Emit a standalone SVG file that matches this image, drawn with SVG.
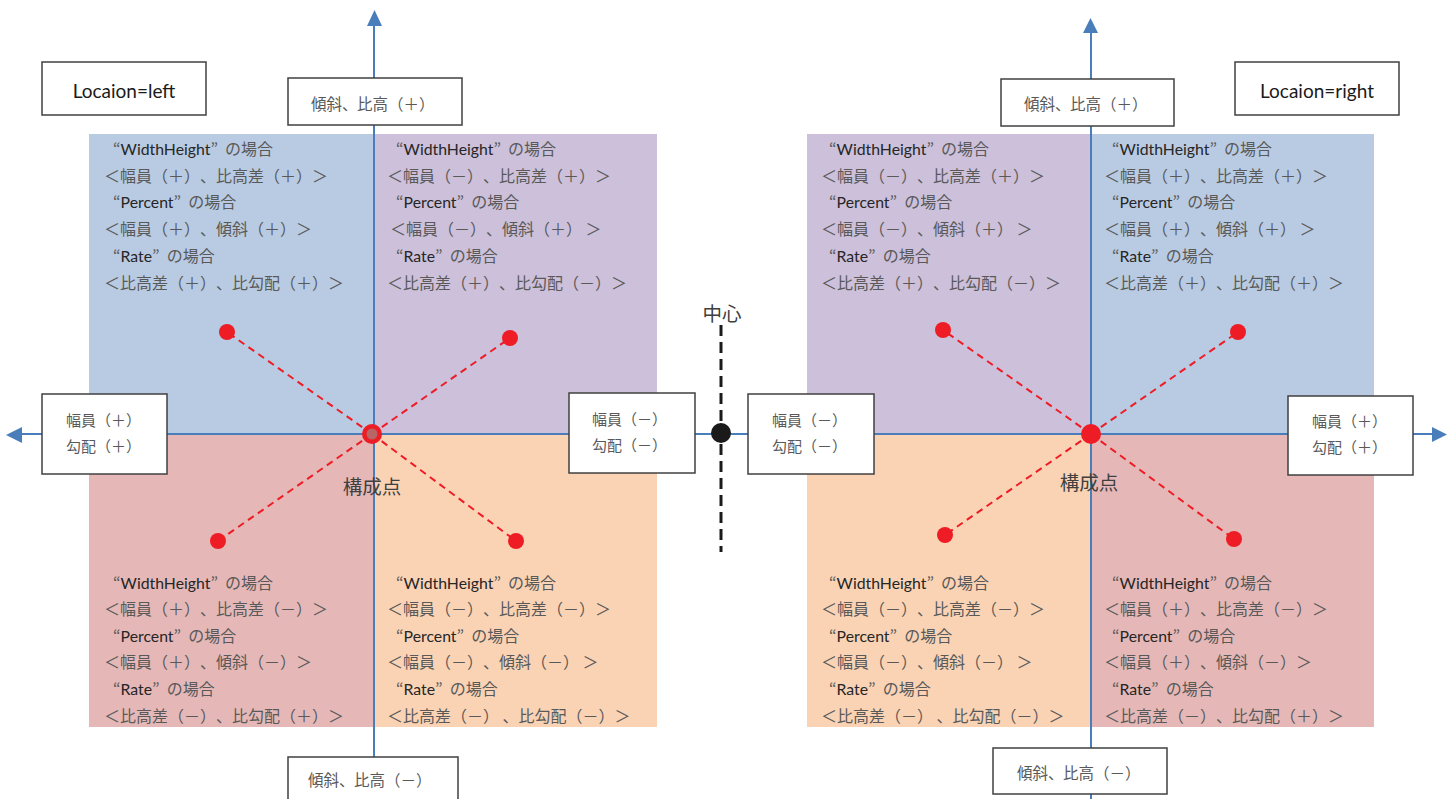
<svg xmlns="http://www.w3.org/2000/svg" width="1456" height="799" viewBox="0 0 1456 799">
<defs>
<style>
.q{font-family:"Noto Sans CJK JP",sans-serif;font-size:16px;fill:#595959;text-spacing-trim:space-all}
.lat{font-family:Lato,"Open Sans",sans-serif;fill:#262626;font-size:15.8px}
.box{fill:#fff;stroke:#404040;stroke-width:1.5}
.bt{font-family:"Noto Sans CJK JP",sans-serif;font-size:15px;fill:#595959;text-spacing-trim:space-all}
.bt2{font-family:"Noto Sans CJK JP",sans-serif;font-size:15.5px;fill:#595959;text-spacing-trim:space-all}
.loc{font-family:Lato,"Liberation Sans",sans-serif;font-size:19px;fill:#1a1a1a;text-anchor:middle}
.axis{stroke:#4a7ebb;stroke-width:2;fill:none}
.rd{stroke:#ee1c25;stroke-width:2;stroke-dasharray:7 5;fill:none}
.dot{fill:#ee1c25}
.lbl{font-family:"Noto Sans CJK JP",sans-serif;font-size:19.5px;fill:#404040;text-anchor:middle}
</style>
</defs>
<rect width="1456" height="799" fill="#fff"/>
<g id="quadrants">
<rect x="89" y="134" width="285" height="300" fill="#b9cbe2"/>
<rect x="374" y="134" width="283" height="300" fill="#ccc0da"/>
<rect x="89" y="434" width="285" height="293" fill="#e5b8b7"/>
<rect x="374" y="434" width="283" height="293" fill="#fad3b5"/>
<rect x="807" y="134" width="284" height="300" fill="#ccc0da"/>
<rect x="1091" y="134" width="283" height="300" fill="#b9cbe2"/>
<rect x="807" y="434" width="284" height="293" fill="#fad3b5"/>
<rect x="1091" y="434" width="283" height="293" fill="#e5b8b7"/>
</g>
<g id="connectors">
<line class="axis" x1="374" y1="24" x2="374" y2="799"/>
<polygon points="367,26 382,26 374.5,10" fill="#4a7ebb"/>
<line class="axis" x1="1091" y1="31" x2="1091" y2="799"/>
<polygon points="1083,33 1098,33 1090.5,18" fill="#4a7ebb"/>
<line class="axis" x1="20" y1="434" x2="1434" y2="434"/>
<polygon points="22,427 22,443 6,435" fill="#4a7ebb"/>
<polygon points="1432,427 1432,442 1447,434.5" fill="#4a7ebb"/>
<line x1="721" y1="325" x2="721" y2="552" stroke="#1a1a1a" stroke-width="3" stroke-dasharray="11 6"/>
<line class="rd" x1="372" y1="434" x2="227" y2="332"/>
<line class="rd" x1="372" y1="434" x2="510" y2="338"/>
<line class="rd" x1="372" y1="434" x2="218" y2="541"/>
<line class="rd" x1="372" y1="434" x2="516" y2="541"/>
<line class="rd" x1="1091" y1="434" x2="943" y2="330"/>
<line class="rd" x1="1091" y1="434" x2="1238" y2="332"/>
<line class="rd" x1="1091" y1="434" x2="945" y2="535"/>
<line class="rd" x1="1091" y1="434" x2="1234" y2="539"/>
</g>
<g id="points">
<circle class="dot" cx="227" cy="332" r="8"/>
<circle class="dot" cx="510" cy="338" r="8"/>
<circle class="dot" cx="218" cy="541" r="8"/>
<circle class="dot" cx="516" cy="541" r="8"/>
<circle class="dot" cx="943" cy="330" r="8"/>
<circle class="dot" cx="1238" cy="332" r="8"/>
<circle class="dot" cx="945" cy="535" r="8"/>
<circle class="dot" cx="1234" cy="539" r="8"/>
<circle class="dot" cx="372" cy="434" r="10"/>
<circle cx="372" cy="434" r="5.5" fill="#b86565"/>
<circle class="dot" cx="1091" cy="434" r="10"/>
<circle cx="721" cy="433" r="10" fill="#1a1a1a"/>
</g>
<g id="center-label"><text class="lbl" x="722" y="321">中心</text></g>
<g id="kosei-left"><text class="lbl" x="372" y="494">構成点</text></g>
<g id="kosei-right"><text class="lbl" x="1089" y="490">構成点</text></g>
<g id="loc-left"><rect class="box" x="42" y="62" width="164" height="53"/><text class="loc" x="124" y="98">Locaion=left</text></g>
<g id="loc-right"><rect class="box" x="1235" y="62" width="164" height="53"/><text class="loc" x="1317" y="98">Locaion=right</text></g>
<g id="top-left-box"><rect class="box" x="288" y="78" width="174" height="47"/><text class="bt2" x="311" y="110">傾斜、<tspan x="357">比高（＋）</tspan></text></g>
<g id="top-right-box"><rect class="box" x="1001" y="79" width="173" height="47"/><text class="bt2" x="1024" y="110">傾斜、<tspan x="1070">比高（＋）</tspan></text></g>
<g id="bottom-left-box"><rect class="box" x="288" y="757" width="170" height="50"/><text class="bt2" x="308" y="786">傾斜、<tspan x="354">比高（－）</tspan></text></g>
<g id="bottom-right-box"><rect class="box" x="993" y="748" width="174" height="46"/><text class="bt2" x="1017" y="779">傾斜、<tspan x="1063">比高（－）</tspan></text></g>
<g id="left-box"><rect class="box" x="42" y="394" width="125" height="80"/><text class="bt" x="66" y="426">幅員（＋）</text><text class="bt" x="66" y="452">勾配（＋）</text></g>
<g id="mid-left-box"><rect class="box" x="569" y="393" width="126" height="80"/><text class="bt" x="592" y="425">幅員（－）</text><text class="bt" x="592" y="451">勾配（－）</text></g>
<g id="mid-right-box"><rect class="box" x="748" y="394" width="126" height="80"/><text class="bt" x="772" y="426">幅員（－）</text><text class="bt" x="772" y="452">勾配（－）</text></g>
<g id="right-box"><rect class="box" x="1288" y="396" width="125" height="79"/><text class="bt" x="1312" y="427">幅員（＋）</text><text class="bt" x="1312" y="453">勾配（＋）</text></g>
<g id="text-L-TL">
<text class="q" x="113" y="155">“<tspan class="lat">WidthHeight</tspan>”<tspan dx="7">の場合</tspan></text>
<text class="q" x="104" y="182">＜幅員（＋）、比高差（＋）＞</text>
<text class="q" x="113" y="208">“<tspan class="lat">Percent</tspan>”<tspan dx="7">の場合</tspan></text>
<text class="q" x="104" y="235">＜幅員（＋）、傾斜（＋）＞</text>
<text class="q" x="113" y="262">“<tspan class="lat">Rate</tspan>”<tspan dx="7">の場合</tspan></text>
<text class="q" x="104" y="289">＜比高差（＋）、比勾配（＋）＞</text>
</g>
<g id="text-L-TR">
<text class="q" x="396" y="155">“<tspan class="lat">WidthHeight</tspan>”<tspan dx="7">の場合</tspan></text>
<text class="q" x="387" y="182">＜幅員（－）、比高差（＋）＞</text>
<text class="q" x="396" y="208">“<tspan class="lat">Percent</tspan>”<tspan dx="7">の場合</tspan></text>
<text class="q" x="390" y="235">＜幅員（－）、傾斜（＋） ＞</text>
<text class="q" x="396" y="262">“<tspan class="lat">Rate</tspan>”<tspan dx="7">の場合</tspan></text>
<text class="q" x="387" y="289">＜比高差（＋）、比勾配（－）＞</text>
</g>
<g id="text-L-BL">
<text class="q" x="113" y="589">“<tspan class="lat">WidthHeight</tspan>”<tspan dx="7">の場合</tspan></text>
<text class="q" x="104" y="615">＜幅員（＋）、比高差（－）＞</text>
<text class="q" x="113" y="642">“<tspan class="lat">Percent</tspan>”<tspan dx="7">の場合</tspan></text>
<text class="q" x="104" y="668">＜幅員（＋）、傾斜（－）＞</text>
<text class="q" x="113" y="695">“<tspan class="lat">Rate</tspan>”<tspan dx="7">の場合</tspan></text>
<text class="q" x="104" y="722">＜比高差（－）、比勾配（＋）＞</text>
</g>
<g id="text-L-BR">
<text class="q" x="396" y="589">“<tspan class="lat">WidthHeight</tspan>”<tspan dx="7">の場合</tspan></text>
<text class="q" x="387" y="615">＜幅員（－）、比高差（－）＞</text>
<text class="q" x="396" y="642">“<tspan class="lat">Percent</tspan>”<tspan dx="7">の場合</tspan></text>
<text class="q" x="387" y="668">＜幅員（－）、傾斜（－） ＞</text>
<text class="q" x="396" y="695">“<tspan class="lat">Rate</tspan>”<tspan dx="7">の場合</tspan></text>
<text class="q" x="387" y="722">＜比高差（－） 、比勾配（－）＞</text>
</g>
<g id="text-R-TL">
<text class="q" x="829" y="155">“<tspan class="lat">WidthHeight</tspan>”<tspan dx="7">の場合</tspan></text>
<text class="q" x="821" y="182">＜幅員（－）、比高差（＋）＞</text>
<text class="q" x="829" y="208">“<tspan class="lat">Percent</tspan>”<tspan dx="7">の場合</tspan></text>
<text class="q" x="821" y="235">＜幅員（－）、傾斜（＋） ＞</text>
<text class="q" x="829" y="262">“<tspan class="lat">Rate</tspan>”<tspan dx="7">の場合</tspan></text>
<text class="q" x="821" y="289">＜比高差（＋）、比勾配（－）＞</text>
</g>
<g id="text-R-TR">
<text class="q" x="1112" y="155">“<tspan class="lat">WidthHeight</tspan>”<tspan dx="7">の場合</tspan></text>
<text class="q" x="1104" y="182">＜幅員（＋）、比高差（＋）＞</text>
<text class="q" x="1112" y="208">“<tspan class="lat">Percent</tspan>”<tspan dx="7">の場合</tspan></text>
<text class="q" x="1104" y="235">＜幅員（＋）、傾斜（＋） ＞</text>
<text class="q" x="1112" y="262">“<tspan class="lat">Rate</tspan>”<tspan dx="7">の場合</tspan></text>
<text class="q" x="1104" y="289">＜比高差（＋）、比勾配（＋）＞</text>
</g>
<g id="text-R-BL">
<text class="q" x="829" y="589">“<tspan class="lat">WidthHeight</tspan>”<tspan dx="7">の場合</tspan></text>
<text class="q" x="821" y="615">＜幅員（－）、比高差（－）＞</text>
<text class="q" x="829" y="642">“<tspan class="lat">Percent</tspan>”<tspan dx="7">の場合</tspan></text>
<text class="q" x="821" y="668">＜幅員（－）、傾斜（－） ＞</text>
<text class="q" x="829" y="695">“<tspan class="lat">Rate</tspan>”<tspan dx="7">の場合</tspan></text>
<text class="q" x="821" y="722">＜比高差（－） 、比勾配（－）＞</text>
</g>
<g id="text-R-BR">
<text class="q" x="1112" y="589">“<tspan class="lat">WidthHeight</tspan>”<tspan dx="7">の場合</tspan></text>
<text class="q" x="1104" y="615">＜幅員（＋）、比高差（－）＞</text>
<text class="q" x="1112" y="642">“<tspan class="lat">Percent</tspan>”<tspan dx="7">の場合</tspan></text>
<text class="q" x="1104" y="668">＜幅員（＋）、傾斜（－）＞</text>
<text class="q" x="1112" y="695">“<tspan class="lat">Rate</tspan>”<tspan dx="7">の場合</tspan></text>
<text class="q" x="1104" y="722">＜比高差（－）、比勾配（＋）＞</text>
</g>
</svg>
